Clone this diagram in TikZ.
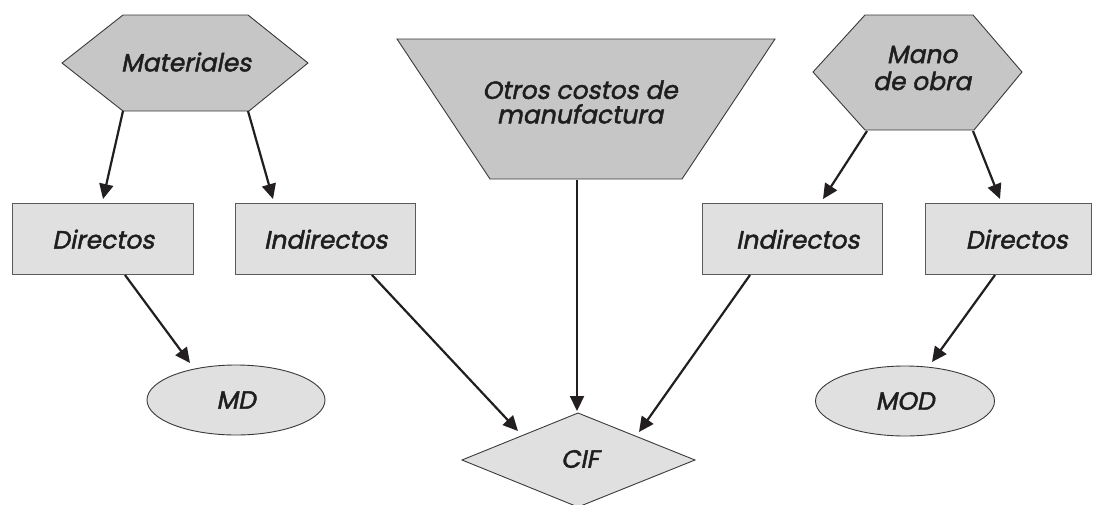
\documentclass[tikz,border=0pt]{standalone}
\usepackage{fontspec}
\newfontfamily\gfont[FakeSlant=0.2, FakeBold=1.8]{Poppins}
\usetikzlibrary{arrows.meta,shapes.geometric}
\definecolor{darkfill}{HTML}{C6C6C6}
\definecolor{lightfill}{HTML}{E0E0E0}
\definecolor{edgegray}{HTML}{3A3A3A}
\definecolor{boxedge}{HTML}{5A5A5A}
\definecolor{arrowink}{HTML}{231F20}
\definecolor{textink}{HTML}{1E1E1E}
\begin{document}
\begin{tikzpicture}[x=1pt,y=-1pt,
  lbl/.style={font=\gfont\fontsize{25}{24.5}\selectfont, text=textink, align=center, inner sep=0pt},
  shapeA/.style={fill=darkfill, draw=edgegray, line width=0.9pt, line join=miter},
  shapeB/.style={fill=lightfill, draw=edgegray, line width=0.9pt, line join=miter},
  box/.style={rectangle, fill=lightfill, draw=boxedge, line width=1.4pt, minimum height=71pt, inner sep=0pt, anchor=north west, lbl},
  oval/.style={ellipse, fill=lightfill, draw=edgegray, line width=0.9pt, minimum width=178pt, minimum height=70pt, inner sep=0pt, lbl},
  arr/.style={-{Triangle[length=15pt,width=14pt]}, line width=2.2pt, draw=arrowink}
]
\useasboundingbox (0,0) rectangle (1093,504);
% shapes
\path[shapeA] (123,15) -- (248,15) -- (308,63) -- (249,111) -- (123,111) -- (62,63) -- cycle;
\path[shapeA] (865,15) -- (973,15) -- (1022,72) -- (974,130) -- (865,130) -- (813,72) -- cycle;
\path[shapeA] (397,39) -- (775,39) -- (682,179) -- (490,179) -- cycle;
\path[shapeB] (578,413) -- (695,460) -- (578,507) -- (462,460) -- cycle;
% labels
\node[lbl] (mat) at (186,62) {Materiales};
\node[lbl] (otros) at (580,102) {Otros costos de\\manufactura};
\node[lbl, font=\gfont\fontsize{25}{27}\selectfont] (mano) at (922,68) {Mano\\de obra};
\node[lbl] (cif) at (580,459) {CIF};
% boxes
\node[box, minimum width=181pt] (dir1) at (12,203) {Directos};
\node[box, minimum width=180pt] (ind1) at (235,203) {Indirectos};
\node[box, minimum width=180pt] (ind2) at (702,203) {\hspace*{10pt}Indirectos};
\node[box, minimum width=166pt] (dir2) at (925,203) {\hspace*{16pt}Directos};
% ovals
\node[oval] (md) at (236,400) {MD};
\node[oval, minimum width=179pt] (mod) at (905,401) {MOD};
% connector end points
\coordinate (matL) at (123,111);
\coordinate (matR) at (248,111);
\coordinate (manoL) at (867,131);
\coordinate (manoR) at (973,131);
\coordinate (otrosB) at (577,180);
\coordinate (dir1T) at (103,199);
\coordinate (ind1T) at (273,199);
\coordinate (ind2T) at (823,199);
\coordinate (dir2T) at (1000,199);
\coordinate (dir1B) at (125,275);
\coordinate (ind1B) at (372,275);
\coordinate (ind2B) at (750,275);
\coordinate (dir2B) at (995,275);
\coordinate (mdT) at (190,363);
\coordinate (modT) at (932,362);
\coordinate (cifL) at (518,431);
\coordinate (cifT) at (577,411);
\coordinate (cifR) at (639,432);
% connectors
\draw[arr] (matL) -- (dir1T);
\draw[arr] (matR) -- (ind1T);
\draw[arr] (manoL) -- (ind2T);
\draw[arr] (manoR) -- (dir2T);
\draw[arr] (otrosB) -- (cifT);
\draw[arr] (dir1B) -- (mdT);
\draw[arr] (ind1B) -- (cifL);
\draw[arr] (ind2B) -- (cifR);
\draw[arr] (dir2B) -- (modT);
\end{tikzpicture}
\end{document}
